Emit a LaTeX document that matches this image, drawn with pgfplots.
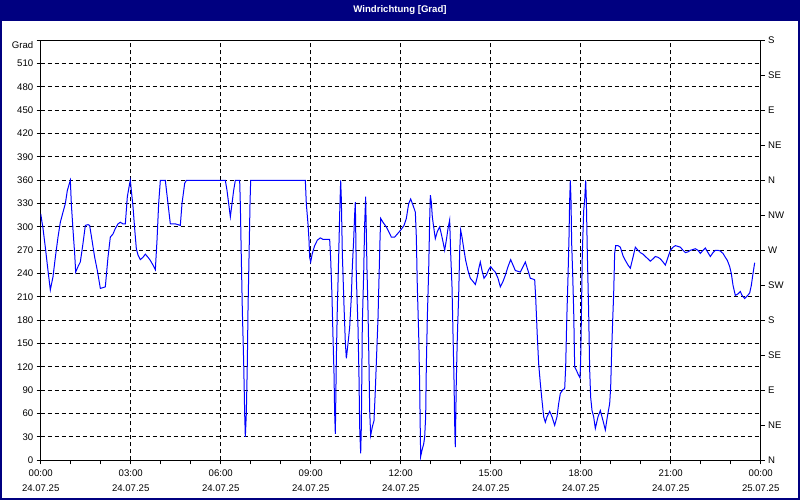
\documentclass[border=0pt]{standalone}
\usepackage{fontspec}
\setmainfont{Liberation Sans}
\usepackage{pgfplots}
\pgfplotsset{compat=1.18}
\definecolor{winblue}{RGB}{0,0,128}
\definecolor{trace}{RGB}{0,0,255}

\pgfplotsset{
  winaxis/.style={
    at={(40.7bp,39.7bp)}, anchor=south west,
    scale only axis, width=720bp, height=420bp,
    xmin=0, xmax=24, ymin=0, ymax=540,
    axis line style={black, line width=1bp},
    tick style={black, line width=1bp},
    major tick length=4bp, minor tick length=4bp,
    tick align=outside,
    tick label style={font=\fontsize{9.6bp}{15bp}\selectfont},
  },
}

\begin{document}
\begin{tikzpicture}
\fill[white] (0,0) rectangle (800bp,500bp);
\fill[winblue] (0,479bp) rectangle (800bp,500bp);
\draw[winblue, line width=2bp] (1bp,1bp) rectangle (799bp,499bp);
\node[text=white, font=\fontsize{9.6bp}{11bp}\selectfont\bfseries] at (400bp,489.5bp) {Windrichtung [Grad]};

\begin{axis}[
  winaxis,
  xtick={0,3,...,24}, minor x tick num=2,
  xticklabels={00:00\\24.07.25, 03:00\\24.07.25, 06:00\\24.07.25, 09:00\\24.07.25,
               12:00\\24.07.25, 15:00\\24.07.25, 18:00\\24.07.25, 21:00\\24.07.25, 00:00\\25.07.25},
  xticklabel style={align=center, yshift=-2bp},
  ytick={0,30,...,540},
  yticklabels={0,30,60,90,120,150,180,210,240,270,300,330,360,390,420,450,480,510,\raisebox{-8.5bp}[0pt][0pt]{Grad}},
  xtick pos=bottom, ytick pos=left,
  grid=major,
  major grid style={black, line width=1bp, dash pattern=on 4bp off 3bp},
]
% wind direction, 24.07.25, hours since midnight vs degrees
\addplot[trace, line width=1bp] coordinates {
(0,317) (0.077,298) (0.154,274) (0.243,244) (0.321,219) (0.41,236) (0.488,261) (0.577,287)
(0.654,306) (0.743,319) (0.821,330) (0.888,347) (0.988,360) (1.021,330) (1.077,296) (1.132,266)
(1.166,242) (1.243,249) (1.321,255) (1.41,279) (1.488,302) (1.577,303) (1.632,302) (1.71,283)
(1.799,261) (1.888,244) (1.988,221) (2.077,222) (2.154,223) (2.243,261) (2.321,287) (2.41,291)
(2.488,298) (2.577,304) (2.654,306) (2.743,304) (2.821,304) (2.888,339) (2.966,356) (2.988,360)
(3.021,347) (3.077,326) (3.132,298) (3.188,272) (3.243,264) (3.321,258) (3.41,261) (3.488,265)
(3.577,261) (3.654,257) (3.743,251) (3.821,245) (3.877,283) (3.932,330) (3.988,360) (4.154,360)
(4.243,330) (4.321,304) (4.488,304) (4.654,302) (4.71,330) (4.799,356) (4.854,360)
(6.154,360) (6.21,347) (6.266,330) (6.321,313) (6.377,330) (6.432,347) (6.488,360) (6.632,360)
(6.654,330) (6.688,259) (6.721,193) (6.766,126) (6.799,60) (6.821,30) (6.854,60) (6.888,126)
(6.91,193) (6.943,259) (6.977,330) (6.999,360) (8.821,360) (8.854,330) (8.91,304) (8.943,283)
(8.966,261) (8.999,255) (9.054,266) (9.132,276) (9.221,283) (9.321,286) (9.41,284) (9.632,284)
(9.666,259) (9.71,210) (9.743,159) (9.777,111) (9.799,60) (9.821,34) (9.854,129) (9.888,197)
(9.932,261) (9.966,317) (9.999,360) (10.021,336) (10.054,266) (10.11,199) (10.154,152) (10.188,131)
(10.243,150) (10.299,171) (10.354,210) (10.388,249) (10.432,283) (10.466,317) (10.488,332) (10.521,236)
(10.577,171) (10.61,107) (10.632,43) (10.666,9) (10.688,43) (10.721,176) (10.766,240) (10.799,304)
(10.832,339) (10.877,244) (10.91,193) (10.943,124) (10.966,64) (10.999,32) (11.054,43) (11.11,51)
(11.154,90) (11.199,137) (11.243,182) (11.277,234) (11.31,283) (11.332,311) (11.41,306) (11.521,300)
(11.599,294) (11.688,287) (11.799,287) (11.888,291) (12.021,297) (12.11,302) (12.188,311) (12.266,330)
(12.332,336) (12.41,328) (12.488,319) (12.521,287) (12.554,223) (12.599,163) (12.632,99) (12.654,34)
(12.666,5) (12.71,13) (12.766,21) (12.799,30) (12.832,56) (12.854,120) (12.888,184) (12.932,244)
(12.966,309) (12.988,341) (13.021,332) (13.054,313) (13.099,300) (13.154,285) (13.221,294) (13.299,300)
(13.354,291) (13.41,281) (13.466,270) (13.521,283) (13.577,298) (13.632,309) (13.666,266) (13.71,223)
(13.743,163) (13.777,103) (13.799,47) (13.821,17) (13.854,103) (13.888,159) (13.932,212) (13.966,268)
(13.999,296) (14.043,287) (14.11,270) (14.166,257) (14.243,244) (14.321,234) (14.41,230) (14.488,226)
(14.554,236) (14.599,246) (14.654,255) (14.71,244) (14.777,234) (14.854,238) (14.932,245) (14.999,249)
(15.077,245) (15.154,242) (15.243,234) (15.321,223) (15.41,230) (15.488,238) (15.577,249) (15.666,258)
(15.743,251) (15.821,244) (15.988,242) (16.077,249) (16.154,255) (16.243,244) (16.321,234) (16.41,233)
(16.466,232) (16.499,210) (16.554,159) (16.599,124) (16.654,99) (16.71,77) (16.766,56) (16.821,49)
(16.877,56) (16.966,63) (17.043,56) (17.132,45) (17.21,56) (17.266,73) (17.321,86) (17.41,91)
(17.466,92) (17.499,120) (17.532,176) (17.577,236) (17.61,287) (17.632,334) (17.654,360) (17.677,334)
(17.699,279) (17.732,240) (17.766,193) (17.799,120) (17.854,116) (17.91,111) (17.977,106) (17.999,129)
(18.021,180) (18.054,266) (18.099,321) (18.132,334) (18.166,360) (18.188,334) (18.221,266) (18.266,189)
(18.299,116) (18.332,81) (18.377,64) (18.432,56) (18.488,41) (18.577,56) (18.654,64) (18.743,51)
(18.821,39) (18.888,56) (18.966,73) (18.999,94) (19.032,141) (19.066,180) (19.099,214) (19.132,266)
(19.166,276) (19.243,276) (19.321,274) (19.41,263) (19.488,257) (19.577,251) (19.654,247) (19.743,261)
(19.821,274) (19.91,270) (19.988,267) (20.077,265) (20.154,262) (20.243,259) (20.321,256) (20.41,259)
(20.488,262) (20.577,261) (20.654,259) (20.743,255) (20.821,251) (20.91,261) (20.988,270) (21.077,274)
(21.154,276) (21.243,275) (21.321,274) (21.41,270) (21.488,267) (21.577,268) (21.654,270) (21.743,271)
(21.821,272) (21.91,270) (21.988,266) (22.077,270) (22.154,273) (22.243,267) (22.321,262) (22.41,267)
(22.488,270) (22.577,270) (22.654,269) (22.743,266) (22.821,261) (22.888,257) (22.966,249) (23.021,240)
(23.077,225) (23.154,212) (23.243,214) (23.321,217) (23.377,212) (23.466,208) (23.543,211) (23.632,215)
(23.688,225) (23.743,240) (23.799,254)
};
\end{axis}

\begin{axis}[
  winaxis,
  axis x line=none, axis y line*=right,
  ytick={0,45,...,540},
  yticklabels={N,NE,E,SE,S,SW,W,NW,N,NE,E,SE,S},
  yticklabel style={anchor=west},
]
\end{axis}
\end{tikzpicture}
\end{document}
